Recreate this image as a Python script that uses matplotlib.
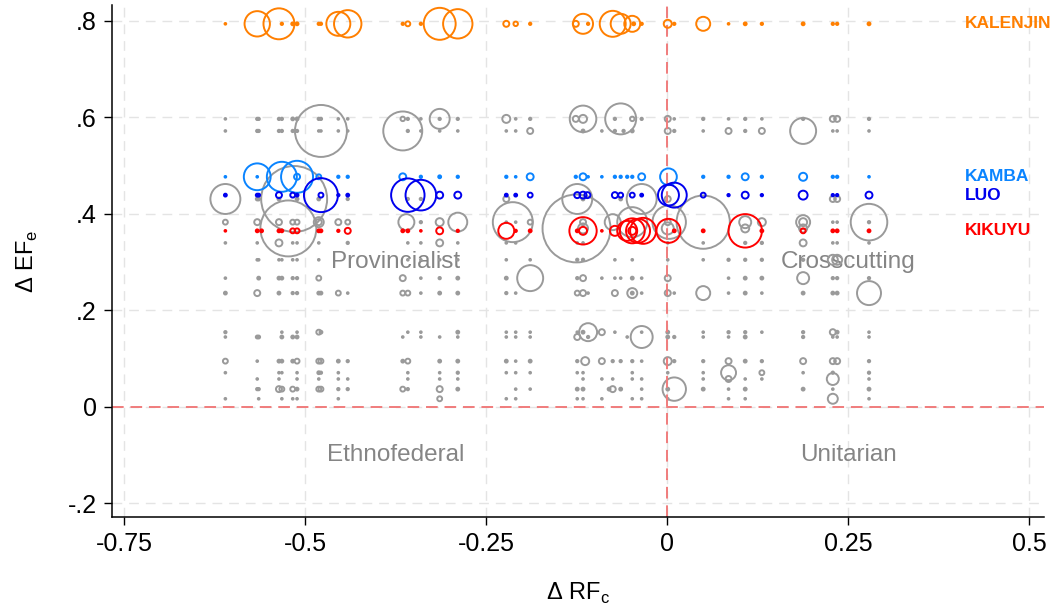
import matplotlib
matplotlib.use("Agg")
import matplotlib.pyplot as plt

# Each marker is a hollow circle whose area follows the group's weight.
# Rows share one delta EF value; x is delta RF.

KALENJIN_Y = 0.794
KALENJIN_X = [-0.610, -0.566, -0.536, -0.532, -0.517, -0.511, -0.481, -0.478, -0.454, -0.441,
              -0.365, -0.358, -0.340, -0.314, -0.289, -0.222, -0.209, -0.189, -0.126, -0.116,
              -0.109, -0.075, -0.064, -0.048, -0.046, -0.035, 0.001, 0.010, 0.050, 0.085,
              0.108, 0.131, 0.188, 0.229, 0.235, 0.279]
KALENJIN_W = [2, 161, 240, 3, 4, 4, 3, 3, 144, 188,
              3, 6, 3, 256, 216, 9, 5, 3, 9, 100,
              3, 169, 100, 64, 4, 3, 16, 3, 49, 2,
              4, 3, 4, 3, 3, 4]

KAMBA_Y = 0.477
KAMBA_X = [-0.610, -0.566, -0.566, -0.532, -0.511, -0.511, -0.481, -0.454, -0.441, -0.365,
           -0.340, -0.314, -0.289, -0.222, -0.209, -0.189, -0.126, -0.116, -0.109, -0.090,
           -0.072, -0.064, -0.055, -0.048, -0.035, 0.002, 0.050, 0.085, 0.108, 0.131,
           0.188, 0.229, 0.235, 0.279]
KAMBA_W = [2, 180, 2, 225, 256, 9, 6, 3, 3, 12,
           3, 4, 3, 3, 2, 12, 3, 12, 2, 2,
           3, 3, 3, 3, 12, 70, 3, 3, 12, 3,
           16, 3, 3, 2]

LUO_Y = 0.439
LUO_X = [-0.610, -0.566, -0.564, -0.536, -0.517, -0.511, -0.478, -0.478, -0.454, -0.441,
         -0.358, -0.340, -0.314, -0.289, -0.222, -0.209, -0.189, -0.124, -0.116, -0.110,
         -0.072, -0.064, -0.048, -0.035, 0.002, 0.010, 0.050, 0.085, 0.108, 0.131,
         0.188, 0.229, 0.235, 0.279]
LUO_W = [4, 4, 4, 9, 6, 4, 289, 6, 3, 4,
         280, 235, 12, 12, 4, 4, 6, 9, 12, 9,
         9, 6, 6, 4, 110, 156, 6, 3, 12, 3,
         20, 3, 3, 12]

KIKUYU_Y = 0.365
KIKUYU_X = [-0.610, -0.566, -0.560, -0.536, -0.532, -0.517, -0.511, -0.481, -0.478, -0.454,
            -0.441, -0.365, -0.358, -0.340, -0.314, -0.289, -0.222, -0.209, -0.189, -0.124,
            -0.116, -0.116, -0.090, -0.072, -0.055, -0.048, -0.040, -0.048, -0.033, 0.002,
            0.010, 0.050, 0.108, 0.131, 0.188, 0.229, 0.235, 0.279]
KIKUYU_W = [2, 4, 4, 4, 4, 6, 6, 4, 4, 3,
            9, 4, 4, 2, 12, 3, 64, 3, 4, 4,
            187, 16, 2, 25, 100, 156, 144, 16, 169, 144,
            4, 4, 280, 4, 6, 4, 4, 4]

# other groups, all drawn in gray, one list pair per row
g597_x = [-0.610, -0.566, -0.564, -0.536, -0.532, -0.517, -0.511, -0.481, -0.478, -0.454,
          -0.441, -0.365, -0.358, -0.340, -0.314, -0.314, -0.289, -0.222, -0.209, -0.189,
          -0.126, -0.116, -0.116, -0.072, -0.064, -0.048, -0.035, 0.001, 0.010, 0.050,
          0.085, 0.108, 0.131, 0.188, 0.229, 0.235, 0.279]
g597_w = [2, 3, 3, 3, 3, 4, 4, 3, 3, 2,
          2, 5, 3, 2, 3, 100, 3, 16, 2, 3,
          9, 16, 177, 3, 240, 5, 3, 9, 2, 3,
          2, 3, 2, 3, 9, 9, 3]

g572_x = [-0.610, -0.566, -0.564, -0.536, -0.532, -0.517, -0.511, -0.481, -0.478, -0.478,
          -0.454, -0.441, -0.365, -0.358, -0.340, -0.314, -0.289, -0.222, -0.209, -0.189,
          -0.116, -0.090, -0.072, -0.060, -0.048, 0.001, 0.010, 0.050, 0.085, 0.108,
          0.131, 0.188, 0.229, 0.235, 0.279]
g572_w = [2, 3, 3, 3, 3, 3, 3, 2, 2, 676,
          2, 2, 380, 3, 2, 2, 2, 2, 2, 9,
          4, 2, 3, 3, 4, 9, 3, 2, 9, 3,
          9, 169, 2, 2, 2]

g430_x = [-0.610, -0.566, -0.564, -0.536, -0.515, -0.511, -0.481, -0.441, -0.358, -0.340,
          -0.222, -0.124, -0.116, -0.064, -0.035, 0.001, 0.229, 0.235]
g430_w = [225, 4, 4, 4, 1089, 4, 4, 3, 3, 3,
          9, 225, 4, 4, 225, 9, 9, 9]

g383_x = [-0.610, -0.566, -0.536, -0.517, -0.511, -0.481, -0.481, -0.454, -0.441, -0.360,
          -0.340, -0.314, -0.289, -0.222, -0.213, -0.209, -0.189, -0.116, -0.075, -0.048,
          0.001, 0.003, 0.050, 0.108, 0.131, 0.188, 0.188, 0.229, 0.235, 0.279,
          0.279]
g383_w = [6, 9, 9, 6, 6, 9, 25, 9, 6, 64,
          3, 16, 90, 2, 400, 2, 6, 9, 64, 225,
          9, 280, 710, 36, 16, 16, 49, 2, 2, 335,
          3]

g370_x = [-0.523, -0.125, -0.116, 0.001, 0.108, 0.188]
g370_w = [784, 1156, 25, 36, 16, 16]

g340_x = [-0.610, -0.566, -0.536, -0.517, -0.511, -0.481, -0.441, -0.358, -0.340, -0.314,
          -0.289, -0.222, -0.209, -0.124, -0.116, 0.001, 0.050, 0.108, 0.131, 0.188,
          0.229, 0.235, 0.279]
g340_w = [2, 2, 12, 2, 2, 2, 3, 2, 2, 12,
          2, 2, 2, 2, 2, 2, 2, 3, 3, 12,
          2, 2, 2]

g305_x = [-0.566, -0.564, -0.536, -0.532, -0.517, -0.511, -0.481, -0.358, -0.340, -0.314,
          -0.289, -0.222, -0.189, -0.124, -0.116, -0.072, -0.048, 0.001, 0.050, 0.085,
          0.108, 0.131, 0.188, 0.229, 0.235]
g305_w = [2, 2, 2, 2, 2, 2, 2, 2, 2, 2,
          2, 2, 2, 3, 3, 2, 2, 2, 2, 3,
          3, 3, 3, 25, 25]

g267_x = [-0.610, -0.564, -0.536, -0.532, -0.517, -0.511, -0.481, -0.365, -0.340, -0.314,
          -0.289, -0.222, -0.189, -0.124, -0.116, -0.090, -0.072, -0.064, -0.048, -0.035,
          0.001, 0.085, 0.108, 0.131, 0.188, 0.229, 0.235, 0.279]
g267_w = [2, 4, 4, 4, 3, 3, 6, 9, 2, 3,
          4, 4, 169, 3, 9, 2, 2, 2, 4, 2,
          9, 2, 4, 4, 36, 3, 3, 3]

g236_x = [-0.610, -0.566, -0.536, -0.517, -0.511, -0.481, -0.478, -0.454, -0.441, -0.365,
          -0.358, -0.340, -0.314, -0.289, -0.222, -0.209, -0.124, -0.116, -0.109, -0.072,
          -0.048, -0.048, -0.035, 0.001, 0.010, 0.050, 0.085, 0.108, 0.131, 0.188,
          0.229, 0.235, 0.279]
g236_w = [4, 9, 4, 3, 3, 4, 4, 6, 2, 6,
          6, 2, 4, 4, 3, 2, 6, 9, 2, 9,
          25, 4, 2, 9, 2, 49, 2, 4, 2, 4,
          4, 4, 144]

g155_x = [-0.610, -0.532, -0.511, -0.481, -0.478, -0.358, -0.340, -0.289, -0.222, -0.209,
          -0.189, -0.124, -0.116, -0.109, -0.090, -0.072, -0.035, 0.001, 0.050, 0.085,
          0.108, 0.131, 0.188, 0.229, 0.235, 0.279]
g155_w = [3, 2, 2, 6, 4, 2, 2, 4, 2, 2,
          2, 2, 4, 81, 9, 2, 2, 4, 2, 3,
          3, 2, 3, 9, 4, 2]

g145_x = [-0.610, -0.566, -0.564, -0.532, -0.517, -0.511, -0.365, -0.340, -0.314, -0.289,
          -0.222, -0.209, -0.189, -0.124, -0.109, -0.055, -0.035, 0.001, 0.010, 0.050,
          0.085, 0.108, 0.188, 0.229, 0.235, 0.279]
g145_w = [2, 4, 4, 4, 4, 4, 2, 2, 2, 2,
          2, 2, 2, 9, 3, 2, 121, 4, 3, 2,
          2, 4, 3, 2, 2, 2]

g095_x = [-0.610, -0.566, -0.536, -0.532, -0.517, -0.511, -0.481, -0.478, -0.454, -0.441,
          -0.365, -0.358, -0.314, -0.289, -0.222, -0.209, -0.189, -0.124, -0.113, -0.090,
          -0.075, -0.064, -0.048, -0.035, 0.001, 0.010, 0.050, 0.085, 0.108, 0.131,
          0.188, 0.229, 0.235, 0.279]
g095_w = [6, 2, 4, 4, 4, 6, 6, 6, 4, 3,
          4, 6, 4, 4, 4, 2, 4, 3, 16, 9,
          3, 3, 3, 2, 16, 3, 3, 9, 4, 3,
          9, 9, 9, 3]

g070_x = [-0.610, -0.536, -0.532, -0.511, -0.481, -0.478, -0.454, -0.358, -0.314, -0.289,
          -0.222, -0.209, -0.189, -0.124, -0.116, -0.048, 0.001, 0.050, 0.085, 0.131,
          0.188, 0.229, 0.279]
g070_w = [2, 2, 2, 2, 4, 3, 2, 2, 2, 3,
          2, 2, 2, 2, 2, 2, 2, 2, 56, 6,
          2, 3, 3]

g058_x = [-0.566, -0.536, -0.511, -0.481, -0.454, -0.441, -0.358, -0.314, -0.289, -0.116,
          -0.090, -0.075, -0.048, -0.035, 0.050, 0.085, 0.108, 0.131, 0.229, 0.279]
g058_w = [2, 2, 2, 2, 2, 2, 2, 2, 2, 2,
          2, 2, 2, 2, 2, 9, 2, 2, 36, 2]

g037_x = [-0.566, -0.564, -0.536, -0.532, -0.517, -0.511, -0.481, -0.478, -0.454, -0.441,
          -0.365, -0.358, -0.314, -0.289, -0.209, -0.189, -0.124, -0.116, -0.080, -0.075,
          -0.064, -0.035, 0.001, 0.010, 0.050, 0.085, 0.108, 0.188, 0.229, 0.279]
g037_w = [3, 3, 9, 6, 6, 4, 6, 6, 3, 3,
          6, 3, 9, 4, 2, 2, 4, 4, 4, 9,
          4, 2, 4, 137, 4, 2, 4, 4, 2, 4]

g017_x = [-0.610, -0.564, -0.532, -0.517, -0.511, -0.454, -0.314, -0.222, -0.209, -0.124,
          -0.116, -0.090, -0.048, -0.035, 0.001, 0.085, 0.108, 0.229, 0.279]
g017_w = [2, 2, 2, 2, 2, 2, 6, 2, 2, 2,
          2, 2, 2, 2, 2, 2, 2, 25, 2]

GRAY_ROWS = [
    (0.597, g597_x, g597_w),
    (0.572, g572_x, g572_w),
    (0.431, g430_x, g430_w),
    (0.383, g383_x, g383_w),
    (0.370, g370_x, g370_w),
    (0.340, g340_x, g340_w),
    (0.305, g305_x, g305_w),
    (0.267, g267_x, g267_w),
    (0.236, g236_x, g236_w),
    (0.155, g155_x, g155_w),
    (0.145, g145_x, g145_w),
    (0.095, g095_x, g095_w),
    (0.071, g070_x, g070_w),
    (0.058, g058_x, g058_w),
    (0.037, g037_x, g037_w),
    (0.017, g017_x, g017_w),
]

GROUPS = [
    ("KALENJIN", KALENJIN_Y, KALENJIN_X, KALENJIN_W, "#ff7f00"),
    ("KAMBA", KAMBA_Y, KAMBA_X, KAMBA_W, "#0a84ff"),
    ("LUO", LUO_Y, LUO_X, LUO_W, "#0000ee"),
    ("KIKUYU", KIKUYU_Y, KIKUYU_X, KIKUYU_W, "#ff0000"),
]

X_TICKS = [-0.75, -0.5, -0.25, 0, 0.25, 0.5]
X_LABELS = ["-0.75", "-0.5", "-0.25", "0", "0.25", "0.5"]
Y_TICKS = [-0.2, 0, 0.2, 0.4, 0.6, 0.8]
Y_LABELS = ["-.2", "0", ".2", ".4", ".6", ".8"]

QUADRANTS = [
    ("Provincialist", -0.375, 0.30),
    ("Crosscutting", 0.25, 0.30),
    ("Ethnofederal", -0.375, -0.10),
    ("Unitarian", 0.25, -0.10),
]

GRAY = "#9a9a9a"
REF_RED = "#f07c7c"
SIZE_SCALE = 2.07   # weight -> marker area in pt^2
EDGE_LW = 1.4
DOT_MAX = 4         # weights this small print as solid dots


def bubbles(ax, xs, y, ws, color, z):
    """ Hollow circles for the larger weights, solid dots for the tiny ones. """
    big = [(x, w) for x, w in zip(xs, ws) if w > DOT_MAX]
    small = [(x, w) for x, w in zip(xs, ws) if w <= DOT_MAX]
    if big:
        ax.scatter([b[0] for b in big], [y] * len(big),
                   s=[b[1] * SIZE_SCALE for b in big],
                   facecolors="none", edgecolors=color, linewidths=EDGE_LW,
                   zorder=z, clip_on=False)
    if small:
        ax.scatter([d[0] for d in small], [y] * len(small),
                   s=[(1.44 * d[1] ** 0.5 + 0.6) ** 2 for d in small],
                   facecolors=color, edgecolors="none", linewidths=0,
                   zorder=z, clip_on=False)


def main():
    plt.rcParams["font.family"] = ["Liberation Sans", "DejaVu Sans"]
    plt.rcParams["axes.unicode_minus"] = False
    plt.rcParams["mathtext.fontset"] = "custom"
    plt.rcParams["mathtext.rm"] = "Liberation Sans"

    fig = plt.figure(figsize=(10.54, 6.05), dpi=100)
    ax = fig.add_axes([112 / 1054, 88 / 605, 932 / 1054, 512 / 605])

    ax.set_xlim(-0.7666, 0.5207)
    ax.set_ylim(-0.228, 0.833)

    # light dashed grid at every tick
    for xt in X_TICKS:
        ax.axvline(xt, color="#e4e4e4", lw=1.0, dashes=(7, 5), zorder=0)
    for yt in Y_TICKS:
        ax.axhline(yt, color="#e4e4e4", lw=1.0, dashes=(7, 5), zorder=0)

    for y, xs, ws in GRAY_ROWS:
        bubbles(ax, xs, y, ws, GRAY, 2)

    ax.axvline(0, color=REF_RED, lw=1.4, dashes=(6, 3.5), zorder=2.5)
    ax.axhline(0, color=REF_RED, lw=1.4, dashes=(6, 3.5), zorder=2.5)

    for name, y, xs, ws, color in GROUPS:
        bubbles(ax, xs, y, ws, color, 3)
        ax.text(0.412, y, name, color=color, fontsize=12.5, fontweight="bold",
                ha="left", va="center", zorder=4)

    for label, qx, qy in QUADRANTS:
        ax.text(qx, qy, label, color="#858585", fontsize=17.5,
                ha="center", va="center", zorder=1)

    ax.set_xticks(X_TICKS)
    ax.set_xticklabels(X_LABELS)
    ax.set_yticks(Y_TICKS)
    ax.set_yticklabels(Y_LABELS)
    ax.tick_params(length=6, width=1.0, labelsize=18, pad=5)

    for side in ["top", "right"]:
        ax.spines[side].set_visible(False)
    for side in ["left", "bottom"]:
        ax.spines[side].set_linewidth(1.1)

    ax.set_xlabel(r"Δ RF$_\mathregular{c}$", fontsize=17, labelpad=18)
    ax.set_ylabel(r"Δ EF$_\mathregular{e}$", fontsize=17, labelpad=20)

    fig.savefig("out.png", dpi=100)


if __name__ == "__main__":
    main()
